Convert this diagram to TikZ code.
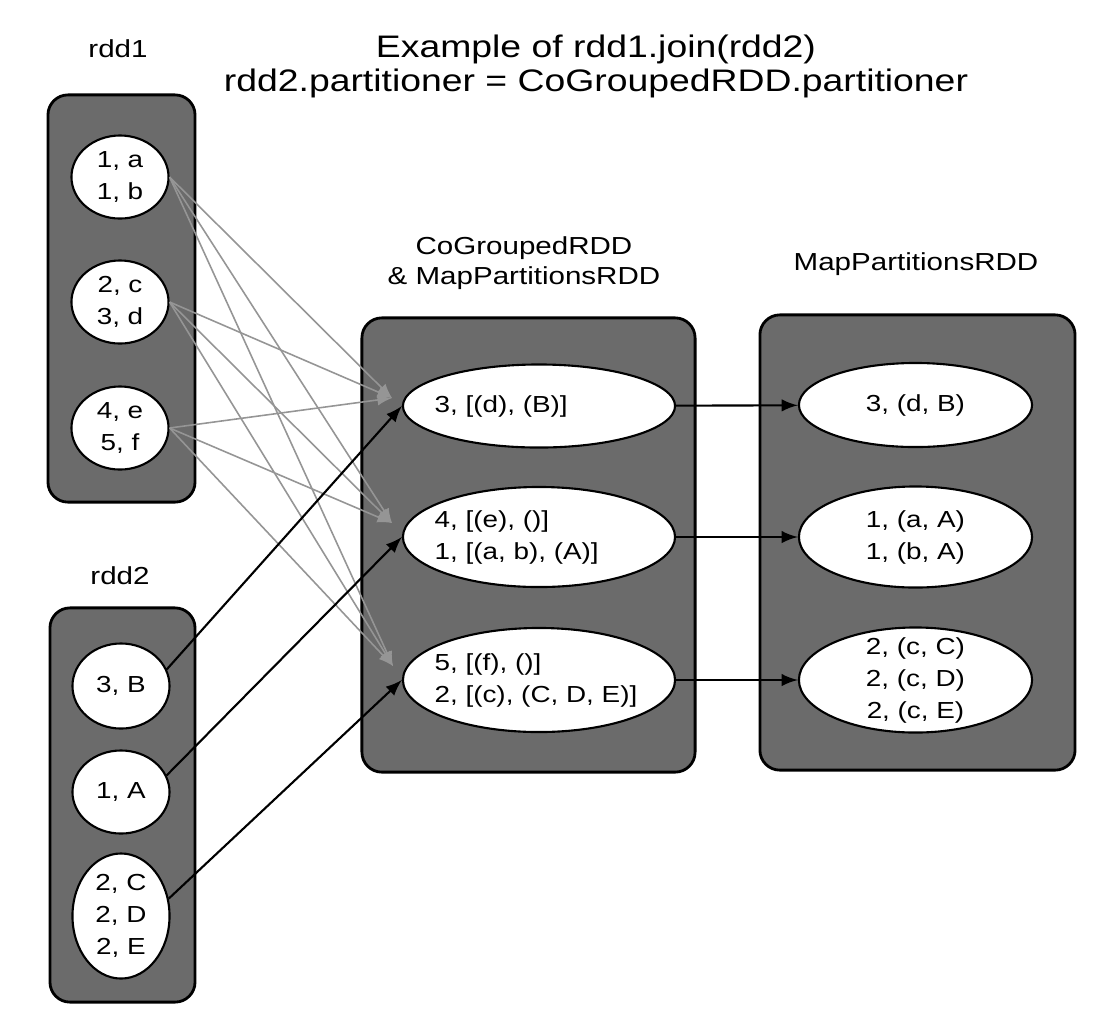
\documentclass[tikz,border=0pt]{standalone}
\usepackage{fontspec}
\setmainfont{Liberation Sans}[FakeStretch=1.2]
\usetikzlibrary{shapes.geometric,positioning}
\definecolor{BoxGray}{HTML}{6B6B6B}
\definecolor{LineGray}{HTML}{959595}
\tikzset{
	rddbox/.style={draw, line width=0.8pt, fill=BoxGray, rounded corners=0.2cm, inner sep=0pt},
	part/.style={ellipse, draw, line width=0.6pt, fill=white, inner sep=0pt},
	rec/.style={font=\fontsize{6.6}{9.1}\selectfont, align=center, inner sep=0pt},
	caption/.style={font=\fontsize{7}{8.5}\selectfont, align=center, inner sep=0pt},
	shuffle/.style={LineGray, line width=0.45pt, -latex},
	dep/.style={black, line width=0.6pt, -latex}
}

\begin{document}
\begin{tikzpicture}[x=0.01cm, y=-0.01cm]
		\useasboundingbox (0,0) rectangle (1120,1026);
		
		\node[font=\fontsize{8.85}{9.64}\selectfont, align=center, inner sep=0pt] (title) at (596,66) {Example of rdd1.join(rdd2)\\rdd2.partitioner = CoGroupedRDD.partitioner};
		
		% rdd1
		\node[caption] (rdd1lbl) at (118,49) {rdd1};
		\node[rddbox, minimum width=1.47cm, minimum height=4.07cm] (rdd1) at (121.5,298.5) {};
		\node[part, minimum width=0.97cm, minimum height=0.83cm] (a1) at (120,177) {};
		\node[part, minimum width=0.97cm, minimum height=0.83cm] (a2) at (120,302) {};
		\node[part, minimum width=0.97cm, minimum height=0.83cm] (a3) at (120,428) {};
		\node[rec] (a1t) at (a1) {1, a\\1, b};
		\node[rec] (a2t) at (a2) {2, c\\3, d};
		\node[rec] (a3t) at (a3) {4, e\\5, f};
		
		% rdd2
		\node[caption] (rdd2lbl) at (120,576) {rdd2};
		\node[rddbox, minimum width=1.45cm, minimum height=3.94cm] (rdd2) at (122.5,805) {};
		\node[part, minimum width=0.97cm, minimum height=0.85cm] (b1) at (121,686) {};
		\node[part, minimum width=0.97cm, minimum height=0.83cm] (b2) at (121,792) {};
		\node[part, minimum width=0.97cm, minimum height=1.25cm] (b3) at (121,916) {};
		\node[rec] (b1t) at (b1) {3, B};
		\node[rec] (b2t) at (b2) {1, A};
		\node[rec] (b3t) at (b3) {2, C\\2, D\\2, E};
		
		% CoGroupedRDD
		\node[caption] (cglbl) at (524,263) {CoGroupedRDD\\\& MapPartitionsRDD};
		\node[rddbox, minimum width=3.33cm, minimum height=4.54cm] (cg) at (528.5,545) {};
		\node[part, minimum width=2.72cm, minimum height=0.83cm] (c1) at (539,406) {};
		\node[part, minimum width=2.72cm, minimum height=1.00cm] (c2) at (539,537) {};
		\node[part, minimum width=2.72cm, minimum height=1.04cm] (c3) at (539,680) {};
		\node[rec, align=left, right=0.32cm of c1.west] (c1t) {3, [(d), (B)]};
		\node[rec, align=left, right=0.32cm of c2.west] (c2t) {4, [(e), ()]\\1, [(a, b), (A)]};
		\node[rec, align=left, right=0.32cm of c3.west] (c3t) {5, [(f), ()]\\2, [(c), (C, D, E)]};
		
		% MapPartitionsRDD
		\node[caption] (mplbl) at (916,264) {MapPartitionsRDD};
		\node[rddbox, minimum width=3.15cm, minimum height=4.55cm] (mp) at (917.5,542.5) {};
		\node[part, minimum width=2.33cm, minimum height=0.84cm] (m1) at (915.5,405) {};
		\node[part, minimum width=2.33cm, minimum height=1.01cm] (m2) at (915.5,537) {};
		\node[part, minimum width=2.33cm, minimum height=1.05cm] (m3) at (915.5,680) {};
		\node[rec] (m1t) at (m1) {3, (d, B)};
		\node[rec] (m2t) at (m2) {1, (a, A)\\1, (b, A)};
		\node[rec] (m3t) at (m3) {2, (c, C)\\2, (c, D)\\2, (c, E)};
		
		% shuffle from rdd1
		\coordinate (in1) at (392,398);
		\coordinate (in2) at (392,523);
		\coordinate (in3) at (393,666);
		
		\draw[shuffle] (a1.east) -- (in1);
		\draw[shuffle] (a1.east) -- (in2);
		\draw[shuffle] (a1.east) -- (in3);
		
		\draw[shuffle] (a2.east) -- (in1);
		\draw[shuffle] (a2.east) -- (in2);
		\draw[shuffle] (a2.east) -- (in3);
		
		\draw[shuffle] (a3.east) -- (in1);
		\draw[shuffle] (a3.east) -- (in2);
		\draw[shuffle] (a3.east) -- (in3);
		
		% narrow from rdd2
		\draw[dep] (b1.20) -- (c1.west);
		\draw[dep] (b2.20) -- (c2.west);
		\draw[dep] (b3.20) -- (c3.west);
		
		\draw[dep] (c1) -- (m1);
		\draw[dep] (c2) -- (m2);
		\draw[dep] (c3) -- (m3);
		
\end{tikzpicture}
\end{document}
